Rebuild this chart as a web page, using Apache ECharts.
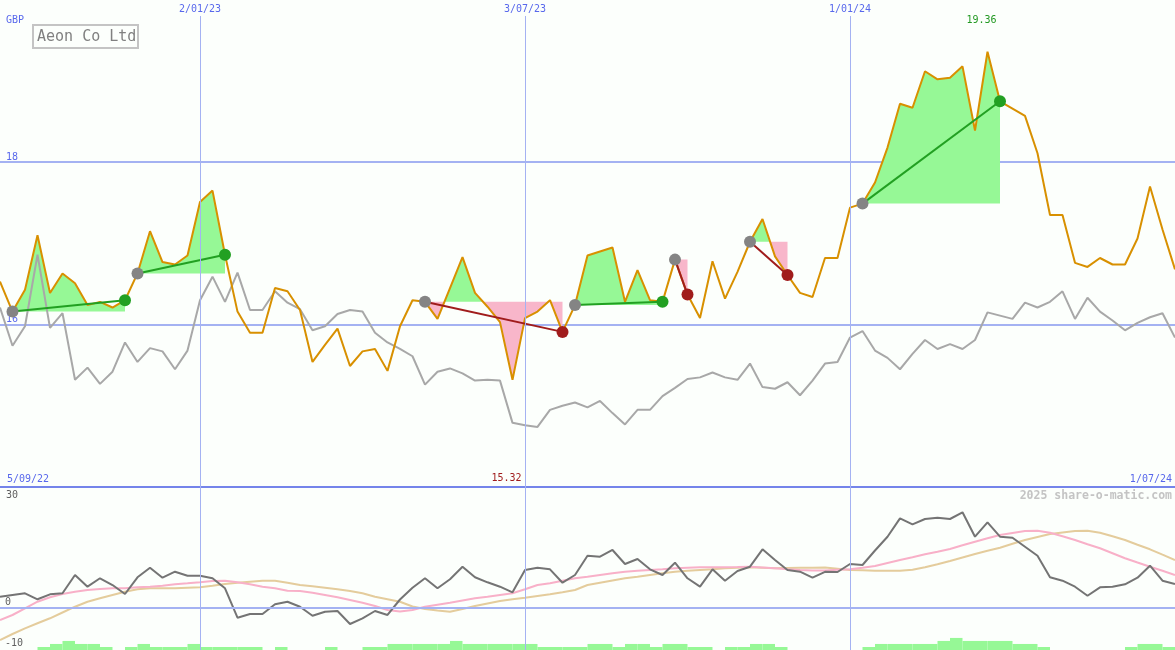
<!DOCTYPE html>
<html><head><meta charset="utf-8">
<script src="https://cdn.jsdelivr.net/npm/echarts@6/dist/echarts.min.js"></script>
<style>html,body{margin:0;padding:0;background:#fcfffc;}#c{width:1175px;height:650px;}</style>
</head><body><div id="c"></div>
<script>
// ---------- DATA ----------
const title = 'Aeon Co Ltd';
const currency = 'GBP';
const copyright = '2025 share-o-matic.com';
// weekly points, week index 1..95 (week 0 = 5/09/22)
const price = [
16.53,16.16,16.43,17.10,16.39,16.63,16.51,16.24,16.28,16.21,
16.30,16.63,17.15,16.77,16.74,16.85,17.51,17.65,16.86,16.16,
15.90,15.90,16.45,16.41,16.18,15.54,15.75,15.95,15.49,15.67,
15.70,15.43,15.98,16.30,16.28,16.07,16.45,16.83,16.39,16.22,
16.03,15.32,16.08,16.16,16.30,15.91,16.24,16.85,16.90,16.95,
16.28,16.67,16.30,16.28,16.80,16.37,16.08,16.78,16.32,16.65,
17.02,17.30,16.84,16.61,16.39,16.34,16.82,16.82,17.44,17.49,
17.75,18.18,18.72,18.67,19.12,19.02,19.04,19.18,18.39,19.36,
18.75,18.66,18.57,18.11,17.35,17.35,16.76,16.71,16.82,16.74,
16.74,17.06,17.70,17.17,16.68];
const relative = [
16.21,15.74,15.98,16.86,15.96,16.14,15.32,15.47,15.27,15.42,
15.78,15.54,15.71,15.67,15.45,15.68,16.30,16.59,16.28,16.64,
16.18,16.18,16.41,16.27,16.19,15.93,15.98,16.13,16.18,16.16,
15.90,15.78,15.70,15.61,15.26,15.42,15.46,15.40,15.31,15.32,
15.31,14.79,14.76,14.74,14.95,15.00,15.04,14.98,15.06,14.91,
14.77,14.95,14.95,15.12,15.22,15.33,15.35,15.41,15.35,15.32,
15.52,15.23,15.21,15.29,15.13,15.31,15.52,15.54,15.84,15.92,
15.68,15.59,15.45,15.64,15.81,15.70,15.76,15.70,15.81,16.15,
16.11,16.07,16.27,16.21,16.28,16.41,16.07,16.33,16.16,16.05,
15.93,16.02,16.09,16.14,15.84];
const momentum = [
2.75,3.17,3.59,2.10,3.34,3.59,8.14,5.23,7.32,5.65,
3.42,7.57,9.95,7.47,8.96,7.96,7.96,7.32,4.83,-2.47,
-1.55,-1.55,0.86,1.50,0.26,-1.98,-0.98,-0.81,-4.04,-2.62,
-0.81,-1.80,2.05,4.98,7.32,4.83,7.07,10.20,7.57,6.32,
5.23,3.84,9.38,9.95,9.55,6.22,8.14,12.93,12.68,14.35,
10.87,12.11,9.55,8.14,11.19,7.32,5.23,9.55,6.72,9.13,
10.20,14.52,11.86,9.38,8.96,7.47,8.93,8.88,10.87,10.62,
14.22,17.65,22.22,20.73,22.05,22.37,22.05,23.71,17.65,21.23,
17.65,17.40,15.17,12.93,7.57,6.72,5.23,2.99,5.08,5.23,
5.83,7.47,10.45,6.72,5.90];
const maFast = [
-3.04,-1.80,-0.14,1.50,2.60,3.42,3.99,4.41,4.66,4.83,
4.83,5.08,5.23,5.48,5.83,6.07,6.32,6.65,6.72,6.32,
5.83,5.23,4.83,4.24,4.16,3.74,3.17,2.60,1.93,1.25,
0.43,-0.56,-0.93,-0.56,0.26,0.76,1.25,1.80,2.35,2.75,
3.17,3.59,4.58,5.65,6.07,6.70,7.32,7.71,8.14,8.56,
8.96,9.18,9.38,9.58,9.80,9.93,10.05,10.05,10.05,10.12,
10.20,10.00,9.80,9.58,9.38,9.25,9.25,9.45,9.55,9.95,
10.37,11.12,11.86,12.56,13.28,13.93,14.60,15.52,16.41,17.25,
18.07,18.57,19.07,19.14,18.65,17.75,16.83,15.79,14.77,13.53,
12.29,11.24,10.20,9.18,8.14];
const maSlow = [
-8.01,-6.52,-5.11,-3.86,-2.62,-1.18,0.26,1.50,2.35,3.17,
3.99,4.58,4.83,4.83,4.83,4.96,5.08,5.48,5.90,6.20,
6.47,6.72,6.72,6.22,5.65,5.33,4.98,4.58,4.16,3.59,
2.75,2.12,1.50,0.31,-0.31,-0.68,-0.98,-0.31,0.43,1.06,
1.68,2.10,2.50,2.92,3.34,3.86,4.41,5.65,6.22,6.77,
7.32,7.71,8.14,8.56,8.96,9.18,9.38,9.58,9.80,9.93,
10.05,9.93,9.80,9.88,9.95,9.95,10.00,9.70,9.38,9.30,
9.20,9.20,9.20,9.45,10.05,10.82,11.61,12.48,13.35,14.15,
14.92,15.89,16.83,17.58,18.32,18.70,19.07,19.14,18.65,17.75,
16.83,15.66,14.52,13.18,11.86];
const volumeLevel = [
0,0,0,1,2,3,2,2,1,0,
1,2,1,1,1,2,1,1,1,1,
1,0,1,0,0,0,1,0,0,1,
1,2,2,2,2,2,3,2,2,2,
2,2,2,1,1,1,1,2,2,1,
2,2,1,2,2,1,1,0,1,1,
2,2,1,0,0,0,0,0,0,1,
2,2,2,2,2,3,4,3,3,3,
3,2,2,1,0,0,0,0,0,0,
1,2,2,1,0];
// trades: [entry week, exit week]
const trades = [[2,11],[12,19],[35,46],[47,54],[55,56],[61,64],[70,81]];
const dateTickWeeks = [17,43,69];
const dateTickLabels = ['2/01/23','3/07/23','1/01/24'];
const rangeLabels = ['5/09/22','1/07/24'];
const priceTicks = [16,18];
const indTicks = [30,0,-10];

// ---------- CHART ----------
const FONT = '"DejaVu Sans Mono", monospace';
const BLUE_TXT = '#5868ec';
const GRID_LINE = '#a4b2f2';
const SEP_LINE = '#7484ea';
const GREEN_FILL = '#96f896';
const PINK_FILL = '#f8b6ca';
const P = i => price[i - 1];
const pair = arr => arr.map((v, k) => [k + 1, v]);

function fillPolys(s, e) {
  const base = P(s), polys = [];
  let cur = [[s, base]], sign = 0;
  for (let i = s; i <= e; i++) {
    const v = P(i), d = v - base;
    if (i > s) {
      const pd = P(i - 1) - base;
      if ((pd > 0 && d < 0) || (pd < 0 && d > 0)) {
        const xc = (i - 1) + pd / (pd - d);
        cur.push([xc, base]);
        polys.push({pts: cur, sign: pd > 0 ? 1 : -1});
        cur = [[xc, base]]; sign = 0;
      }
    }
    if (d !== 0) sign = d > 0 ? 1 : -1;
    cur.push([i, v]);
  }
  cur.push([e, base]);
  polys.push({pts: cur, sign});
  return polys;
}

let maxI = 1, minI = 1;
price.forEach((v, k) => { if (v > P(maxI)) maxI = k + 1; if (v < P(minI)) minI = k + 1; });

const chart = echarts.init(document.getElementById('c'), null, {renderer: 'canvas'});
const hiddenX = (g) => ({type: 'value', gridIndex: g, min: 1, max: 95, show: false});
const option = {
  animation: false,
  backgroundColor: '#fcfffc',
  grid: [
    {left: 0, right: 0, top: 16, height: 471, containLabel: false, outerBoundsMode: 'none'},
    {left: 0, right: 0, top: 487, height: 161, containLabel: false, outerBoundsMode: 'none'},
    {left: 0, right: 0, top: 487, height: 163, containLabel: false, outerBoundsMode: 'none'}
  ],
  xAxis: [
    {type: 'value', gridIndex: 0, min: 1, max: 95, position: 'bottom',
     axisLine: {show: true, onZero: false, lineStyle: {color: SEP_LINE, width: 2}},
     axisTick: {show: false}, axisLabel: {show: false}, splitLine: {show: false}},
    hiddenX(1), hiddenX(2)
  ],
  yAxis: [
    {type: 'value', gridIndex: 0, min: 14, max: 19.8, interval: 2, position: 'left',
     axisLine: {show: false}, axisTick: {show: false},
     splitLine: {show: true, showMinLine: false, showMaxLine: false, lineStyle: {color: GRID_LINE, width: 2}},
     axisLabel: {inside: true, margin: 6, verticalAlign: 'bottom', color: BLUE_TXT, fontFamily: FONT, fontSize: 10,
       formatter: v => priceTicks.includes(v) ? String(v) : ''}},
    {type: 'value', gridIndex: 1, min: -10, max: 30, interval: 10, position: 'left',
     axisLine: {show: false}, axisTick: {show: false}, splitLine: {show: false},
     axisLabel: {inside: true, margin: 5, verticalAlign: 'bottom', color: '#606060', fontFamily: FONT, fontSize: 10,
       formatter: v => (indTicks.includes(v) && v !== indTicks[0]) ? String(v) : ''}},
    {type: 'value', gridIndex: 1, min: -10, max: 30, interval: 10, position: 'left', offset: 0,
     axisLine: {show: false}, axisTick: {show: false}, splitLine: {show: false},
     axisLabel: {inside: true, margin: 6, verticalAlign: 'top', padding: [3, 0, 0, 0], color: '#606060', fontFamily: FONT, fontSize: 10,
       formatter: v => v === indTicks[0] ? String(v) : ''}},
    {type: 'value', gridIndex: 2, min: 0, max: 54, show: false}
  ],
  graphic: [
    {type: 'text', x: 6, y: 20, style: {text: currency, fill: BLUE_TXT, font: '10px ' + FONT, textVerticalAlign: 'middle', verticalAlign: 'middle'}},
    {type: 'rect', shape: {x: 33, y: 25, width: 105, height: 23}, style: {fill: '#fcfffc', stroke: '#c4c4c4', lineWidth: 2}, z: 10},
    {type: 'text', x: 37, y: 37, z: 11, style: {text: title, fill: '#808080', font: '15px ' + FONT, textVerticalAlign: 'middle', verticalAlign: 'middle'}},
    {type: 'text', x: 7, y: 479, style: {text: rangeLabels[0], fill: BLUE_TXT, font: '10px ' + FONT, textVerticalAlign: 'middle', verticalAlign: 'middle'}},
    {type: 'text', x: 1172, y: 479, style: {text: rangeLabels[1], fill: BLUE_TXT, font: '10px ' + FONT, textAlign: 'right', align: 'right', textVerticalAlign: 'middle', verticalAlign: 'middle'}},
    {type: 'text', x: 1172, y: 496, style: {text: copyright, fill: '#c4c4c4', font: 'bold 11.5px ' + FONT, textAlign: 'right', align: 'right', textVerticalAlign: 'middle', verticalAlign: 'middle'}}
  ],
  series: [
    {type: 'custom', name: 'fills', xAxisIndex: 0, yAxisIndex: 0, z: 1, silent: true,
     data: trades.map(t => [t[0], P(t[0]), t[1], P(t[1])]),
     encode: {x: [0, 2], y: [1, 3]},
     renderItem: (params, api) => {
       const [s, e] = trades[params.dataIndex];
       return {type: 'group', children: fillPolys(s, e).filter(p => p.sign !== 0).map(p => ({
         type: 'polygon', shape: {points: p.pts.map(pt => api.coord(pt))},
         style: {fill: p.sign > 0 ? GREEN_FILL : PINK_FILL}}))};
     },
     markLine: {silent: true, symbol: 'none', animation: false,
       lineStyle: {color: GRID_LINE, width: 1, type: 'solid'},
       label: {show: true, position: 'end', distance: 2, color: BLUE_TXT, fontFamily: FONT, fontSize: 10,
         formatter: p => dateTickLabels[dateTickWeeks.indexOf(p.value)]},
       data: dateTickWeeks.map(w => ({xAxis: w}))}
    },
    {type: 'line', name: 'relative', xAxisIndex: 0, yAxisIndex: 0, z: 2, data: pair(relative),
     showSymbol: false, lineStyle: {color: '#a8a8a8', width: 2}, silent: true},
    {type: 'line', name: 'price', xAxisIndex: 0, yAxisIndex: 0, z: 3, data: pair(price),
     showSymbol: false, lineStyle: {color: '#d89000', width: 2}, silent: true,
     markPoint: {silent: true, symbol: 'circle', symbolSize: 1, itemStyle: {color: 'rgba(0,0,0,0)'},
       data: [
         {coord: [maxI, P(maxI)], value: P(maxI), label: {show: true, position: 'inside', offset: [-6, -31], color: '#229922', fontFamily: FONT, fontSize: 10, formatter: p => p.value.toFixed(2)}},
         {coord: [minI, P(minI)], value: P(minI), label: {show: true, position: 'inside', offset: [-6, 99], color: '#a01c1c', fontFamily: FONT, fontSize: 10, formatter: p => p.value.toFixed(2)}}
       ]}},
    {type: 'custom', name: 'trades', xAxisIndex: 0, yAxisIndex: 0, z: 4, silent: true,
     data: trades.map(t => [t[0], P(t[0]), t[1], P(t[1])]),
     encode: {x: [0, 2], y: [1, 3]},
     renderItem: (params, api) => {
       const [s, e] = trades[params.dataIndex];
       const p0 = api.coord([s, P(s)]), p1 = api.coord([e, P(e)]);
       const col = P(e) >= P(s) ? '#22a022' : '#a01c1c';
       return {type: 'group', children: [
         {type: 'line', shape: {x1: p0[0], y1: p0[1], x2: p1[0], y2: p1[1]}, style: {stroke: col, lineWidth: 2}},
         {type: 'circle', shape: {cx: p0[0], cy: p0[1], r: 6}, style: {fill: '#848484'}},
         {type: 'circle', shape: {cx: p1[0], cy: p1[1], r: 6}, style: {fill: col}}
       ]};
     }},
    {type: 'custom', name: 'volume', xAxisIndex: 2, yAxisIndex: 3, z: 1, silent: true,
     data: pair(volumeLevel),
     renderItem: (params, api) => {
       const i = api.value(0), v = api.value(1);
       if (!v) return null;
       const a = api.coord([i, v]), b = api.coord([i + 1, 0]);
       return {type: 'rect', shape: {x: a[0], y: a[1], width: b[0] - a[0], height: b[1] - a[1]}, style: {fill: GREEN_FILL}};
     },
     markLine: {silent: true, symbol: 'none', animation: false, label: {show: false},
       lineStyle: {color: GRID_LINE, width: 1, type: 'solid'},
       data: dateTickWeeks.map(w => ({xAxis: w}))}
    },
    {type: 'line', name: 'zero', xAxisIndex: 1, yAxisIndex: 1, z: 1, data: [], silent: true,
     markLine: {silent: true, symbol: 'none', animation: false, label: {show: false},
       lineStyle: {color: GRID_LINE, width: 2, type: 'solid'}, data: [{yAxis: 0}]}},
    {type: 'line', name: 'slow', xAxisIndex: 1, yAxisIndex: 1, z: 2, data: pair(maSlow),
     showSymbol: false, lineStyle: {color: '#e4cc9c', width: 2}, silent: true},
    {type: 'line', name: 'fast', xAxisIndex: 1, yAxisIndex: 1, z: 3, data: pair(maFast),
     showSymbol: false, lineStyle: {color: '#f8b0c8', width: 2}, silent: true},
    {type: 'line', name: 'momentum', xAxisIndex: 1, yAxisIndex: 1, z: 4, data: pair(momentum),
     showSymbol: false, lineStyle: {color: '#747474', width: 2}, silent: true}
  ]
};
chart.setOption(option);
</script>
</body></html>
